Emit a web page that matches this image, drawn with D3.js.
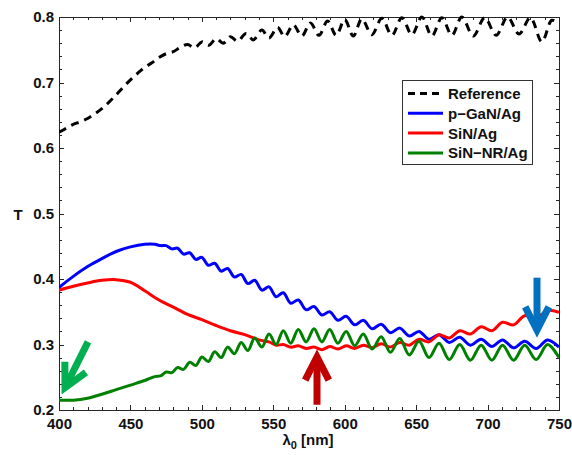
<!DOCTYPE html>
<html>
<head>
<meta charset="utf-8">
<script src="https://cdn.jsdelivr.net/npm/d3@7"></script>
<style>
	body { margin: 0; background: white; }
	text { font-family: "Liberation Sans", Arial, sans-serif; font-weight: bold; fill: #111; }
</style>
</head>
<body>
<div id="container"></div>
<script>
// wavelength (nm) / transmission pairs
const reference = [
	[400,0.624],[405,0.630],[410,0.636],[415,0.640],[420,0.645],[425,0.652],[430,0.660],[435,0.670],
	[440,0.681],[445,0.693],[450,0.704],[455,0.714],[460,0.723],[465,0.730],[470,0.738],[475,0.744],
	[480,0.747],[485,0.754],[490,0.758],[495,0.753],[500,0.762],[505,0.757],[510,0.767],[515,0.760],
	[520,0.770],[525,0.763],[531,0.775],[536,0.765],[542,0.780],[547,0.768],[553,0.784],[558,0.770],
	[564,0.788],[570,0.771],[576,0.791],[582,0.772],[588,0.794],[594,0.772],[600,0.796],[606,0.771],
	[612,0.797],[619,0.773],[626,0.798],[633,0.772],[640,0.799],[647,0.773],[654,0.800],[661,0.771],
	[668,0.799],[675,0.772],[682,0.800],[690,0.771],[698,0.799],[706,0.772],[714,0.800],[722,0.774],
	[730,0.799],[738,0.762],[745,0.795],[750,0.790]
];
const pGaN = [
	[400,0.387],[410,0.404],[420,0.419],[430,0.431],[440,0.442],[450,0.449],[460,0.453],
	[467,0.453],[471,0.451],[475,0.451],[479,0.446],[483,0.447],[487.2,0.438],[491.5,0.440],[495.8,0.430],
	[500,0.433],[504.5,0.421],[509,0.424],[513.5,0.412],[518,0.416],[522.8,0.403],[527.5,0.407],[532.2,0.393],
	[537,0.398],[542,0.383],[547,0.388],[552,0.373],[557,0.379],[562.2,0.363],[567.5,0.368],[573,0.353],
	[578.5,0.358],[584,0.345],[589.5,0.350],[595.2,0.337],[601,0.343],[607,0.330],[613,0.337],[619.2,0.324],
	[625.5,0.331],[632,0.318],[638.5,0.325],[645.2,0.313],[652,0.320],[659,0.308],[666,0.315],[673.2,0.303],
	[680.5,0.311],[688,0.299],[695.5,0.308],[703,0.297],[710.5,0.307],[718.2,0.295],[726,0.305],[734,0.294],
	[742,0.307],[750,0.296]
];
const siN = [
	[400,0.383],[410,0.389],[420,0.394],[430,0.398],[440,0.399],[450,0.395],[460,0.382],[470,0.368],
	[480,0.357],[490,0.346],[500,0.338],[510,0.329],[520,0.321],[530,0.315],[540,0.307],
	[547,0.304],[552,0.299],[557,0.300],[562.2,0.296],[567.5,0.298],[573,0.294],[578.5,0.296],[584,0.292],
	[589.5,0.297],[595.2,0.293],[601,0.298],[607,0.294],[613,0.299],[619.2,0.295],[625.5,0.301],[632,0.296],
	[638.5,0.303],[645.2,0.299],[652,0.308],[659,0.304],[666,0.315],[673.2,0.310],[680.5,0.321],[688,0.316],
	[695.5,0.327],[703,0.321],[710.5,0.334],[718.2,0.330],[726,0.344],[734,0.340],[742,0.352],[750,0.349]
];
const siNNR = [
	[400,0.215],[410,0.215],[420,0.218],[430,0.224],[440,0.231],[450,0.238],[460,0.245],
	[467,0.251],[471,0.252],[475,0.258],[479,0.257],[483,0.265],[487.2,0.262],[491.5,0.273],[495.8,0.268],
	[500,0.281],[504.5,0.274],[509,0.289],[513.5,0.280],[518,0.296],[522.8,0.286],[527.5,0.303],[532.2,0.291],
	[537,0.310],[542,0.296],[547,0.316],[552,0.300],[557,0.321],[562.2,0.302],[567.5,0.323],[573,0.304],
	[578.5,0.324],[584,0.304],[589.5,0.323],[595.2,0.302],[601,0.320],[607,0.298],[613,0.316],[619.2,0.293],
	[625.5,0.312],[632,0.288],[638.5,0.309],[645.2,0.284],[652,0.305],[659,0.280],[666,0.302],[673.2,0.277],
	[680.5,0.300],[688,0.276],[695.5,0.299],[703,0.276],[710.5,0.299],[718.2,0.276],[726,0.299],[734,0.277],
	[742,0.300],[750,0.280]
];

const seriesNames  = ['Reference', 'p\u2212GaN/Ag', 'SiN/Ag', 'SiN\u2212NR/Ag'];
const seriesColors = ['#000000', '#0000ff', '#ff0000', '#008000'];
const seriesData   = [reference, pGaN, siN, siNNR];

const xTicks = [400, 450, 500, 550, 600, 650, 700, 750];
const yTicks = [0.2, 0.3, 0.4, 0.5, 0.6, 0.7, 0.8];

// annotation arrows: [tail, tip] in data units
const arrows = [
	{color: '#00b050', from: [420.3, 0.304], to: [404.2, 0.234]},
	{color: '#c00000', from: [580.6, 0.208], to: [580.6, 0.281]},
	{color: '#0070c0', from: [734.6, 0.402], to: [734.6, 0.322]}
];

const W = 572, H = 455;
const L = 59, R = 559, T = 17, B = 410;

const svg = d3.select('#container').append('svg')
	.attr('width', W)
	.attr('height', H);
svg.append('rect').attr('width', W).attr('height', H).attr('fill', 'white');

const x = d3.scaleLinear().domain([400, 750]).range([L, R]);
const y = d3.scaleLinear().domain([0.2, 0.8]).range([B, T]);

const minorX = d3.range(400, 751, 10);
const minorY = d3.range(0.2, 0.801, 0.02);

function drawAxis(axis, tx, ty, labels) {
	const g = svg.append('g').attr('transform', `translate(${tx},${ty})`).call(axis);
	g.select('.domain').attr('stroke', '#262626').attr('shape-rendering', 'crispEdges');
	g.selectAll('.tick line').attr('stroke', '#262626').attr('shape-rendering', 'crispEdges');
	g.selectAll('text').attr('font-size', 15).attr('font-family', null);
	if (!labels) g.selectAll('text').remove();
	return g;
}

const yFmt = d3.format('.1f');
drawAxis(d3.axisBottom(x).tickValues(minorX).tickSize(-3).tickSizeOuter(0), 0, B, false);
drawAxis(d3.axisBottom(x).tickValues(xTicks).tickSize(-5).tickSizeOuter(0).tickPadding(8), 0, B, true);
drawAxis(d3.axisTop(x).tickValues(minorX).tickSize(-3).tickSizeOuter(0), 0, T, false);
drawAxis(d3.axisTop(x).tickValues(xTicks).tickSize(-5).tickSizeOuter(0), 0, T, false);
drawAxis(d3.axisLeft(y).tickValues(minorY).tickSize(-3).tickSizeOuter(0), L, 0, false);
drawAxis(d3.axisLeft(y).tickValues(yTicks).tickSize(-5).tickSizeOuter(0).tickPadding(5).tickFormat(yFmt), L, 0, true);
drawAxis(d3.axisRight(y).tickValues(minorY).tickSize(-3).tickSizeOuter(0), R, 0, false);
drawAxis(d3.axisRight(y).tickValues(yTicks).tickSize(-5).tickSizeOuter(0), R, 0, false);

svg.append('clipPath').attr('id', 'plotclip')
	.append('rect').attr('x', L).attr('y', T - 2).attr('width', R - L).attr('height', B - T + 2);

const line = d3.line()
	.x(d => x(d[0]))
	.y(d => y(d[1]))
	.curve(d3.curveCatmullRom.alpha(0.5));

const plot = svg.append('g').attr('clip-path', 'url(#plotclip)');
seriesData.forEach((data, i) => {
	plot.append('path')
		.datum(data)
		.attr('d', line)
		.attr('fill', 'none')
		.attr('stroke', seriesColors[i])
		.attr('stroke-width', 3)
		.attr('stroke-linejoin', 'round')
		.attr('stroke-dasharray', i === 0 ? '8,6' : null);
});

// axis titles
svg.append('text')
	.attr('x', 18).attr('y', 220)
	.attr('text-anchor', 'middle')
	.attr('font-size', 15)
	.text('T');
const xl = svg.append('text')
	.attr('x', 308).attr('y', 445)
	.attr('text-anchor', 'middle')
	.attr('font-size', 15);
xl.append('tspan').text('\u03bb');
xl.append('tspan').attr('font-size', 11).attr('dy', 4).text('0');
xl.append('tspan').attr('dy', -4).text(' [nm]');

// legend
const LX = 402, LY = 80, LW = 130, LH = 84;
const legend = svg.append('g');
legend.append('rect')
	.attr('x', LX + 0.5).attr('y', LY + 0.5)
	.attr('width', LW).attr('height', LH)
	.attr('fill', 'white')
	.attr('stroke', '#333')
	.attr('stroke-width', 1);
const rows = legend.selectAll('g.row').data(seriesNames).enter().append('g')
	.attr('transform', (d, i) => `translate(${LX + 6},${LY + 13.5 + i * 19.8})`);
rows.append('line')
	.attr('x1', 0).attr('x2', 35)
	.attr('stroke', (d, i) => seriesColors[i])
	.attr('stroke-width', 3)
	.attr('stroke-dasharray', (d, i) => i === 0 ? '7,5' : null);
rows.append('text')
	.attr('x', 40).attr('y', 5.5)
	.attr('font-size', 15)
	.text(d => d);

// arrows
const HEAD = 26, SPREAD = 27 * Math.PI / 180;
arrows.forEach(a => {
	const x0 = x(a.from[0]), y0 = y(a.from[1]);
	const x1 = x(a.to[0]), y1 = y(a.to[1]);
	const ang = Math.atan2(y0 - y1, x0 - x1);
	const w1 = [x1 + HEAD * Math.cos(ang - SPREAD), y1 + HEAD * Math.sin(ang - SPREAD)];
	const w2 = [x1 + HEAD * Math.cos(ang + SPREAD), y1 + HEAD * Math.sin(ang + SPREAD)];
	const g = svg.append('g')
		.attr('stroke', a.color)
		.attr('stroke-width', 7)
		.attr('fill', 'none');
	g.append('line')
		.attr('x1', x0).attr('y1', y0)
		.attr('x2', x1 + 3 * Math.cos(ang)).attr('y2', y1 + 3 * Math.sin(ang));
	g.append('path')
		.attr('d', `M${w1[0]},${w1[1]}L${x1},${y1}L${w2[0]},${w2[1]}`)
		.attr('stroke-linejoin', 'miter')
		.attr('stroke-miterlimit', 10);
});
</script>
</body>
</html>
